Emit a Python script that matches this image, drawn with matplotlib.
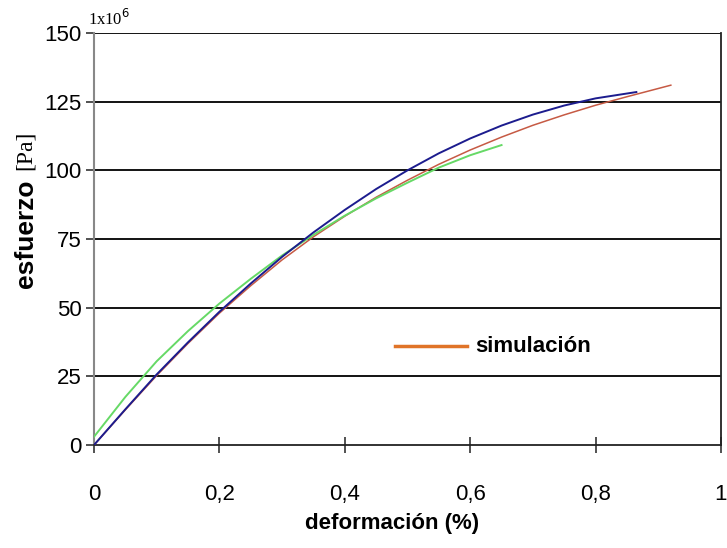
import matplotlib
matplotlib.use("Agg")
import matplotlib.pyplot as plt

# strain (%) and stress (x1e6 Pa) for the three curves
blue_x = [0, 0.05, 0.1, 0.15, 0.2, 0.25, 0.3, 0.35, 0.4, 0.45, 0.5, 0.55, 0.6, 0.65, 0.7, 0.75, 0.8, 0.865]
blue_y = [0, 13, 25.7, 37.4, 48.5, 58.8, 68.5, 77.4, 85.6, 93.2, 100, 106.2, 111.6, 116.3, 120.3, 123.6, 126.2, 128.5]

sim_x = [0, 0.05, 0.1, 0.15, 0.2, 0.25, 0.3, 0.35, 0.4, 0.45, 0.5, 0.55, 0.6, 0.65, 0.7, 0.75, 0.8, 0.85, 0.92]
sim_y = [0, 12.8, 25.3, 37, 48, 58, 67.4, 75.8, 83.3, 90.2, 96.4, 102.2, 107.4, 112.1, 116.4, 120.2, 123.7, 126.8, 131]

green_x = [0, 0.05, 0.1, 0.15, 0.2, 0.25, 0.3, 0.35, 0.4, 0.45, 0.5, 0.55, 0.6, 0.65]
green_y = [3, 17.5, 30.5, 41.5, 51.5, 60.5, 69, 76.5, 83.5, 89.8, 95.5, 101, 105.5, 109.2]

x_ticks = [0, 0.2, 0.4, 0.6, 0.8, 1]
x_labels = ["0", "0,2", "0,4", "0,6", "0,8", "1"]
y_ticks = [0, 25, 50, 75, 100, 125, 150]

sans = "Liberation Sans"
serif = "Liberation Serif"

fig = plt.figure(figsize=(7.27, 5.48), dpi=100)
ax = fig.add_axes([94 / 727, 1 - 445 / 548, 627 / 727, 412 / 548])

for yv in y_ticks[1:]:
    ax.axhline(yv, color="black", lw=1.3, zorder=1)

ax.plot(sim_x, sim_y, color="#c65a44", lw=1.1, zorder=3)
ax.plot(green_x, green_y, color="#66d966", lw=1.4, zorder=3)
ax.plot(blue_x, blue_y, color="#1c1c8e", lw=1.4, zorder=4)

ax.set_xlim(0, 1)
ax.set_ylim(0, 150)
ax.set_xticks(x_ticks)
ax.set_xticklabels(x_labels, fontfamily=sans, fontsize=16)
ax.set_yticks(y_ticks)
ax.set_yticklabels([str(v) for v in y_ticks], fontfamily=sans, fontsize=16)
ax.tick_params(axis="x", direction="inout", length=12, width=1.2, pad=22, color="#333333")
ax.tick_params(axis="y", direction="out", length=6, width=1.2, pad=3, color="#333333")

ax.spines["top"].set_visible(False)
ax.spines["left"].set_color("#888888")
ax.spines["left"].set_linewidth(1.5)
ax.spines["bottom"].set_color("#222222")
ax.spines["bottom"].set_linewidth(1.3)
ax.spines["right"].set_color("#222222")
ax.spines["right"].set_linewidth(1.3)

# legend entry for the simulation curve (axes-fraction coordinates)
leg_y = 1 - (346 - 33) / 412
ax.plot([(395 - 94) / 627, (467 - 94) / 627], [leg_y, leg_y],
        transform=ax.transAxes, color="#e07428", lw=2.5, zorder=5)
ax.text((475 - 94) / 627, leg_y, "simulación", transform=ax.transAxes,
        fontfamily=sans, fontweight="bold", fontsize=16, va="center", ha="left", zorder=5)

# axis titles
fig.text(392 / 727, 1 - 524 / 548, "deformación (%)", fontfamily=sans, fontweight="bold",
         fontsize=16, ha="center", va="center")
fig.text(26 / 727, 1 - 234 / 548, "esfuerzo", fontfamily=sans, fontweight="bold",
         fontsize=19, rotation=90, ha="center", va="center")
fig.text(25 / 727, 1 - 150 / 548, "[Pa]", fontfamily=serif, fontsize=17,
         rotation=90, ha="center", va="center")
fig.text(88 / 727, 1 - 19 / 548, r"1x10$^{6}$", fontfamily=serif, fontsize=12,
         ha="left", va="center")

fig.savefig("out.png", dpi=100)
